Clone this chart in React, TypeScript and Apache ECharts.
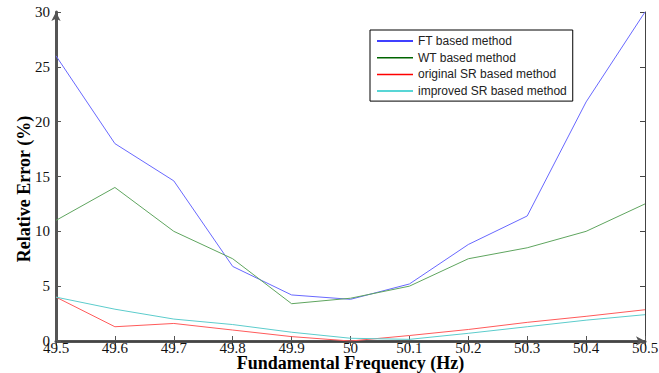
import React, { useEffect, useRef } from "react";
import * as echarts from "echarts";

const freqs = [49.5, 49.6, 49.7, 49.8, 49.9, 50.0, 50.1, 50.2, 50.3, 50.4, 50.5];
const ftValues = [26, 18, 14.6, 6.8, 4.2, 3.8, 5.2, 8.8, 11.4, 21.8, 30];
const wtValues = [11, 14, 10, 7.5, 3.4, 3.9, 5.0, 7.5, 8.5, 10, 12.5];
const origSrValues = [4.0, 1.3, 1.6, 1.0, 0.4, 0.0, 0.5, 1.05, 1.7, 2.25, 2.85];
const impSrValues = [4.0, 2.9, 2.0, 1.5, 0.8, 0.25, 0.15, 0.7, 1.3, 1.9, 2.4];
const seriesNames = ["FT based method", "WT based method", "original SR based method", "improved SR based method"];
const lineColors = ["#6868ff", "#5fa55f", "#ff5a5a", "#5ccccc"];
const legendColors = ["#0000ff", "#006400", "#ff0000", "#20c8c8"];

export default function App() {
  const ref = useRef<HTMLDivElement>(null);
  useEffect(() => {
    if (!ref.current) return;
    const chart = echarts.init(ref.current, undefined, { renderer: "svg" });
    const allValues = [ftValues, wtValues, origSrValues, impSrValues];
    const serif = "'Liberation Serif', 'Times New Roman', serif";
    chart.setOption({
      animation: false,
      backgroundColor: "#ffffff",
      textStyle: { fontFamily: serif },
      grid: { left: 56, right: 14, top: 12, bottom: 32, outerBoundsMode: "none", containLabel: false },
      legend: {
        orient: "vertical",
        left: 370,
        top: 30,
        width: 194,
        backgroundColor: "#ffffff",
        borderColor: "#000000",
        borderWidth: 1,
        borderRadius: 0,
        padding: [4, 6, 3, 7],
        icon: "rect",
        itemWidth: 36,
        itemHeight: 1.5,
        itemGap: 2.7,
        textStyle: {
          fontFamily: "'Liberation Sans', Arial, sans-serif",
          fontSize: 12,
          lineHeight: 14,
          height: 14,
          color: "#222222",
        },
        data: seriesNames.map((n, i) => ({
          name: n,
          itemStyle: { color: legendColors[i] },
        })),
      },
      xAxis: [
        {
          type: "value",
          min: 49.5,
          max: 50.5,
          interval: 0.1,
          name: "Fundamental Frequency (Hz)",
          nameLocation: "middle",
          nameGap: 14,
          nameMoveOverlap: false,
          nameTextStyle: { fontFamily: serif, fontSize: 18, lineHeight: 16, fontWeight: "bold", color: "#000" },
          axisLine: {
            show: true,
            lineStyle: { color: "#555555", width: 3 },
            symbol: ["none", "arrow"],
            symbolSize: [7, 9],
          },
          axisTick: { show: true, inside: true, length: 5, lineStyle: { color: "#555555", width: 1 } },
          axisLabel: {
            fontFamily: serif,
            fontSize: 15,
            lineHeight: 12,
            color: "#111",
            margin: 1,
            formatter: (v: number) => String(Math.round(v * 10) / 10),
          },
          splitLine: { show: false },
        },
        {
          type: "value",
          position: "top",
          min: 49.5,
          max: 50.5,
          interval: 0.1,
          axisLine: { show: true, lineStyle: { color: "#444444", width: 1 } },
          axisTick: { show: true, inside: true, length: 5, lineStyle: { color: "#444444" } },
          axisLabel: { show: false },
          splitLine: { show: false },
        },
      ],
      yAxis: [
        {
          type: "value",
          min: 0,
          max: 30,
          interval: 5,
          name: "Relative Error (%)",
          nameLocation: "middle",
          nameGap: 23,
          nameRotate: 90,
          nameMoveOverlap: false,
          nameTextStyle: {
            fontFamily: serif,
            fontSize: 18,
            fontWeight: "bold",
            color: "#000",
            padding: [0, 25, 0, 0],
          },
          axisLine: {
            show: true,
            lineStyle: { color: "#555555", width: 3 },
            symbol: ["none", "arrow"],
            symbolSize: [7, 9],
          },
          axisTick: { show: true, inside: true, length: 5, lineStyle: { color: "#555555" } },
          axisLabel: { fontFamily: serif, fontSize: 15, color: "#111", margin: 6 },
          splitLine: { show: false },
        },
        {
          type: "value",
          position: "right",
          min: 0,
          max: 30,
          interval: 5,
          axisLine: { show: true, lineStyle: { color: "#444444", width: 1 } },
          axisTick: { show: true, inside: true, length: 5, lineStyle: { color: "#444444" } },
          axisLabel: { show: false },
          splitLine: { show: false },
        },
      ],
      series: seriesNames.map((n, i) => ({
        name: n,
        type: "line",
        xAxisIndex: 0,
        yAxisIndex: 0,
        symbol: "none",
        lineStyle: { color: lineColors[i], width: 1 },
        itemStyle: { color: lineColors[i] },
        data: freqs.map((f, j) => [f, allValues[i][j]]),
        z: 2,
      })),
    });
    return () => chart.dispose();
  }, []);
  return <div ref={ref} style={{ width: 659, height: 373, position: "absolute", left: 0, top: 0 }} />;
}
